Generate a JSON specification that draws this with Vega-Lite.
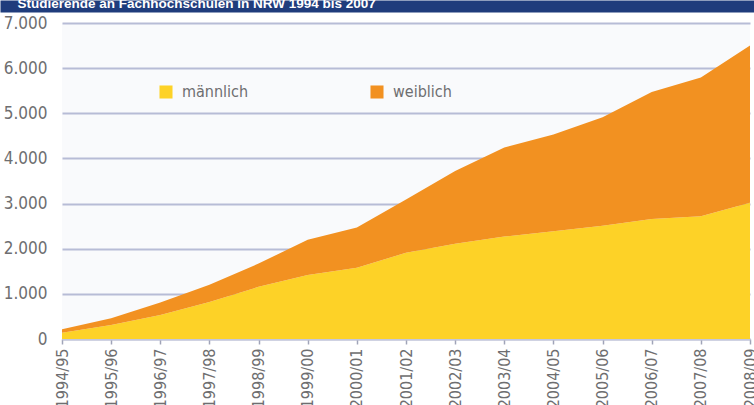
{
  "$schema": "https://vega.github.io/schema/vega-lite/v6.json",
  "width": 688,
  "height": 316,
  "autosize": {"type": "none"},
  "padding": {"left": 62, "top": 23, "right": 4, "bottom": 66},
  "background": "#ffffff",
  "config": {
    "view": {"stroke": null, "fill": "#f9fafc"},
    "font": "Liberation Sans Narrow, DejaVu Sans Condensed, sans-serif"
  },
  "data": {
    "values": [
      {"jahr": "1994/95", "geschlecht": "männlich", "anzahl": 140},
      {"jahr": "1994/95", "geschlecht": "weiblich", "anzahl": 75},
      {"jahr": "1995/96", "geschlecht": "männlich", "anzahl": 310},
      {"jahr": "1995/96", "geschlecht": "weiblich", "anzahl": 150},
      {"jahr": "1996/97", "geschlecht": "männlich", "anzahl": 533},
      {"jahr": "1996/97", "geschlecht": "weiblich", "anzahl": 274},
      {"jahr": "1997/98", "geschlecht": "männlich", "anzahl": 820},
      {"jahr": "1997/98", "geschlecht": "weiblich", "anzahl": 380},
      {"jahr": "1998/99", "geschlecht": "männlich", "anzahl": 1155},
      {"jahr": "1998/99", "geschlecht": "weiblich", "anzahl": 515},
      {"jahr": "1999/00", "geschlecht": "männlich", "anzahl": 1420},
      {"jahr": "1999/00", "geschlecht": "weiblich", "anzahl": 780},
      {"jahr": "2000/01", "geschlecht": "männlich", "anzahl": 1580},
      {"jahr": "2000/01", "geschlecht": "weiblich", "anzahl": 890},
      {"jahr": "2001/02", "geschlecht": "männlich", "anzahl": 1910},
      {"jahr": "2001/02", "geschlecht": "weiblich", "anzahl": 1180},
      {"jahr": "2002/03", "geschlecht": "männlich", "anzahl": 2110},
      {"jahr": "2002/03", "geschlecht": "weiblich", "anzahl": 1610},
      {"jahr": "2003/04", "geschlecht": "männlich", "anzahl": 2270},
      {"jahr": "2003/04", "geschlecht": "weiblich", "anzahl": 1970},
      {"jahr": "2004/05", "geschlecht": "männlich", "anzahl": 2385},
      {"jahr": "2004/05", "geschlecht": "weiblich", "anzahl": 2145},
      {"jahr": "2005/06", "geschlecht": "männlich", "anzahl": 2510},
      {"jahr": "2005/06", "geschlecht": "weiblich", "anzahl": 2400},
      {"jahr": "2006/07", "geschlecht": "männlich", "anzahl": 2660},
      {"jahr": "2006/07", "geschlecht": "weiblich", "anzahl": 2810},
      {"jahr": "2007/08", "geschlecht": "männlich", "anzahl": 2720},
      {"jahr": "2007/08", "geschlecht": "weiblich", "anzahl": 3070},
      {"jahr": "2008/09", "geschlecht": "männlich", "anzahl": 3020},
      {"jahr": "2008/09", "geschlecht": "weiblich", "anzahl": 3480}
    ]
  },
  "layer": [
    {
      "mark": {"type": "area", "interpolate": "linear"},
      "encoding": {
        "x": {
          "field": "jahr",
          "type": "ordinal",
          "scale": {"type": "point", "padding": 0},
          "axis": {
            "title": null,
            "labelAngle": -90,
            "labelFontSize": 16,
            "labelColor": "#6e6e70",
            "labelPadding": 4,
            "tickColor": "#a0a4b8",
            "tickSize": 5,
            "tickWidth": 1.5,
            "domainColor": "#c3c7da",
            "domainWidth": 2,
            "grid": false
          }
        },
        "y": {
          "field": "anzahl",
          "type": "quantitative",
          "stack": "zero",
          "scale": {"domain": [0, 7000], "nice": false},
          "axis": {
            "title": null,
            "values": [0, 1000, 2000, 3000, 4000, 5000, 6000, 7000],
            "labelExpr": "replace(format(datum.value, ','), ',', '.')",
            "labelFontSize": 17,
            "labelColor": "#6e6e70",
            "labelPadding": 15,
            "ticks": false,
            "domain": false,
            "grid": true,
            "gridColor": "#b7bcd6",
            "gridWidth": 2
          }
        },
        "order": {"field": "geschlecht", "sort": "ascending"},
        "color": {
          "field": "geschlecht",
          "type": "nominal",
          "scale": {"domain": ["männlich", "weiblich"], "range": ["#fdd227", "#f29121"]},
          "legend": {
            "title": null,
            "orient": "none",
            "legendX": 96,
            "legendY": 61,
            "direction": "horizontal",
            "columns": 2,
            "columnPadding": 120,
            "symbolType": "square",
            "symbolSize": 170,
            "symbolStrokeWidth": 0,
            "labelFontSize": 16,
            "labelColor": "#6e6e70",
            "labelOffset": 8,
            "padding": 0
          }
        }
      }
    },
    {
      "mark": {"type": "point", "opacity": 0},
      "encoding": {
        "x": {
          "field": "jahr",
          "type": "ordinal",
          "scale": {"type": "point", "padding": 0, "range": [-62, 692]},
          "axis": {
            "orient": "top",
            "offset": 17,
            "domainColor": "#1f3c7c",
            "domainWidth": 12,
            "ticks": false,
            "labels": false,
            "grid": false,
            "title": "Studierende an Fachhochschulen in NRW 1994 bis 2007",
            "titleColor": "#ffffff",
            "titleFontSize": 13.5,
            "titleFontWeight": "bold",
            "titleFont": "Liberation Sans, sans-serif",
            "titleAlign": "left",
            "titleAnchor": "start",
            "titleBaseline": "alphabetic",
            "titleX": -45,
            "titleY": 1
          }
        },
        "y": {"field": "anzahl", "type": "quantitative", "stack": "zero"}
      }
    }
  ],
  "resolve": {"axis": {"x": "independent"}, "scale": {"x": "independent"}}
}
